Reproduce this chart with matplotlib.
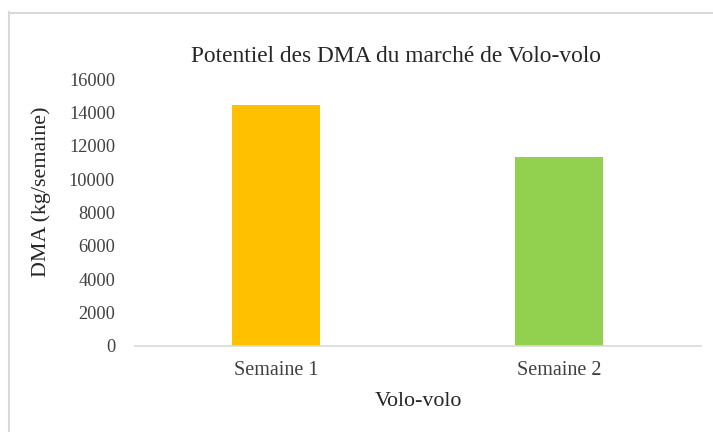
import matplotlib
matplotlib.use("Agg")
import matplotlib.pyplot as plt
from matplotlib.lines import Line2D

categories = ["Semaine 1", "Semaine 2"]
values = [14440, 11320]
colors = ["#FFC000", "#92D050"]
yticks = [0, 2000, 4000, 6000, 8000, 10000, 12000, 14000, 16000]

plt.rcParams['font.family'] = ['Liberation Serif', 'DejaVu Serif']

W, H = 713, 432
fig = plt.figure(figsize=(W/100, H/100), dpi=100)
L, R, T, B = 134.5, 700.5, 79, 346
ax = fig.add_axes([L/W, 1-B/H, (R-L)/W, (B-T)/H])

x = range(len(categories))
ax.bar(x, values, width=0.31, color=colors)
ax.set_xlim(-0.5, 1.5)
ax.set_ylim(0, 16000)
ax.set_yticks(yticks)
ax.set_yticklabels([str(t) for t in yticks], fontsize=13.2, color="#404040")
ax.set_xticks(list(x))
ax.set_xticklabels(categories, fontsize=14.5, color="#404040")
ax.tick_params(axis='y', length=0, pad=14)
ax.tick_params(axis='x', length=0, pad=11)
for s in ["top", "right", "left"]:
    ax.spines[s].set_visible(False)
ax.spines["bottom"].set_color("#d9d9d9")
ax.spines["bottom"].set_linewidth(1.2)

fig.text(396/W, 1-57/H, "Potentiel des DMA du marché de Volo-volo", fontsize=16.8,
         color="#262626", ha="center", va="center")
ax.set_ylabel("DMA (kg/semaine)", fontsize=15.8, color="#262626", va="center")
ax.yaxis.set_label_coords((41-L)/(R-L), (B-192)/(B-T))
ax.set_xlabel("Volo-volo", fontsize=15.8, color="#262626", va="center")
ax.xaxis.set_label_coords((418-L)/(R-L), -(402-B)/(B-T))

# outer frame
fig.add_artist(Line2D([8.5/W, 8.5/W], [0, 1-12/H], transform=fig.transFigure, color="#d9d9d9", lw=1.5))
fig.add_artist(Line2D([8.5/W, 1], [1-12.5/H, 1-12.5/H], transform=fig.transFigure, color="#d9d9d9", lw=1.5))

fig.savefig("out.png", dpi=100)
